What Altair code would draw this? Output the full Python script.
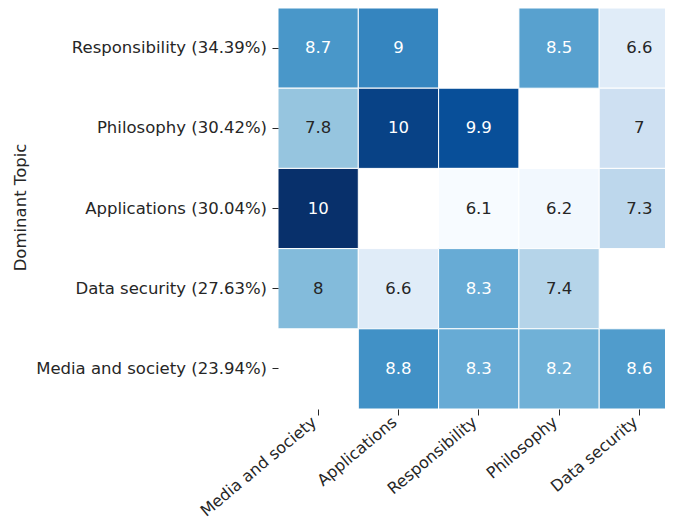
import altair as alt
import pandas as pd

rows = ["Responsibility (34.39%)", "Philosophy (30.42%)", "Applications (30.04%)",
        "Data security (27.63%)", "Media and society (23.94%)"]
cols = ["Media and society", "Applications", "Responsibility", "Philosophy", "Data security"]
values = [
    [8.7, 9.0, None, 8.5, 6.6],
    [7.8, 10.1, 9.9, None, 7.0],
    [10.4, None, 6.1, 6.2, 7.3],
    [8.0, 6.6, 8.3, 7.4, None],
    [None, 8.8, 8.3, 8.2, 8.6],
]
blues = ["#f7fbff", "#deebf7", "#c6dbef", "#9ecae1", "#6baed6",
         "#4292c6", "#2171b5", "#08519c", "#08306b"]

records = []
for r, rowname in enumerate(rows):
    for c, colname in enumerate(cols):
        v = values[r][c]
        if v is not None:
            records.append({"row": rowname, "col": colname, "value": v})
df = pd.DataFrame(records)

vmin, vmax = df["value"].min(), df["value"].max()
stops = [vmin + i * (vmax - vmin) / (len(blues) - 1) for i in range(len(blues))]

FONT = "DejaVu Sans"
TXT = "#262626"
FS = 16.5

x_enc = alt.X("col:N", sort=cols,
              scale=alt.Scale(range=[0, 401.5], paddingInner=0, paddingOuter=0),
              axis=alt.Axis(title=None, labelAngle=-40, labelAlign="right", labelBaseline="top",
                            labelFontSize=16, labelFont=FONT, labelColor=TXT, labelLimit=0,
                            tickColor=TXT, tickSize=6, tickWidth=1, domain=False,
                            labelPadding=-1.5, labelOffset=-9))
y_enc = alt.Y("row:N", sort=rows,
              scale=alt.Scale(paddingInner=0, paddingOuter=0),
              axis=alt.Axis(title="Dominant Topic", labelFontSize=FS, labelFont=FONT,
                            labelColor=TXT, tickColor=TXT, tickSize=6, tickWidth=1, labelLimit=0,
                            domain=False, labelPadding=5.5, titleFont=FONT, titleFontSize=FS,
                            titleFontWeight="normal", titleColor=TXT,
                            titleX=-253, titleY=199, titleBaseline="alphabetic",
                            titleAngle=270))

base = alt.Chart(df).encode(x=x_enc, y=y_enc)

rects = base.mark_rect(stroke="white", strokeWidth=1).encode(
    color=alt.Color("value:Q", scale=alt.Scale(domain=stops, range=blues, interpolate="rgb"),
                    legend=None)
)
texts = base.mark_text(font=FONT, fontSize=FS).encode(
    text=alt.Text("value:Q", format=".2~g"),
    color=alt.condition("datum.value > 8.1", alt.value("white"), alt.value(TXT)),
)

chart = (rects + texts).properties(
    width=387, height=401,
    autosize=alt.AutoSizeParams(type="none"),
    padding={"left": 270, "top": 0, "right": 0, "bottom": 112},
).configure_view(stroke=None)

chart.save("out.html", embed_options={"renderer": "svg", "actions": False})
